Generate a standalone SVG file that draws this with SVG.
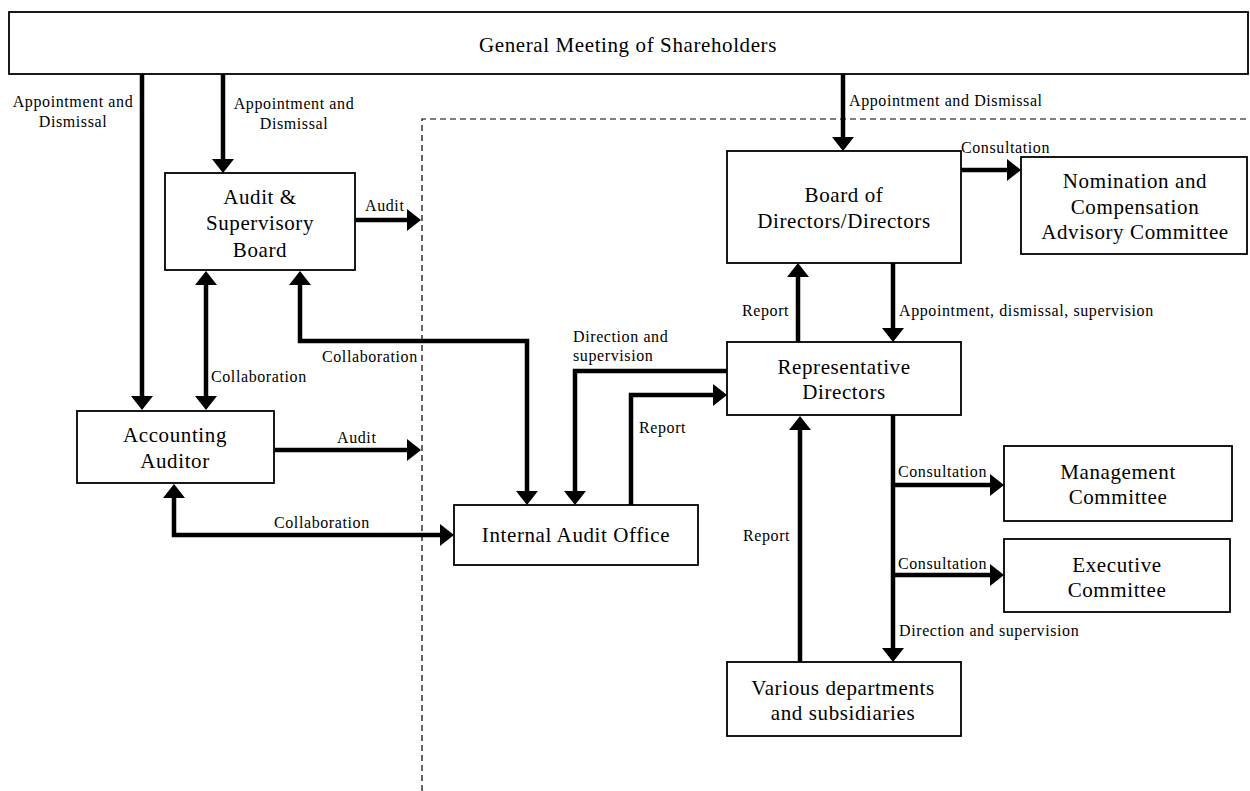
<svg xmlns="http://www.w3.org/2000/svg" width="1250" height="791" viewBox="0 0 1250 791">
<style>
.box{fill:#fff;stroke:#000;stroke-width:1.8}
.bt{font-family:"Liberation Serif","Times New Roman",serif;font-size:21px;letter-spacing:0.6px;text-anchor:middle;fill:#000}
.lb{font-family:"Liberation Serif","Times New Roman",serif;font-size:16px;letter-spacing:0.6px;fill:#000}
.lbc{text-anchor:middle}
.ln{fill:none;stroke:#000;stroke-width:4.5;stroke-linejoin:miter}
.dash{fill:none;stroke:#000;stroke-width:1.2;stroke-dasharray:6 4}
</style>
<defs>
<marker id="ah" markerUnits="userSpaceOnUse" markerWidth="16" markerHeight="24" viewBox="0 0 16 24" refX="1" refY="11" orient="auto-start-reverse">
<path d="M0,0 L14,11 L0,22 z" fill="#000"/>
</marker>
</defs>
<rect width="1250" height="791" fill="#fff"/>
<path class="dash" d="M422,791 L422,119 L1250,119"/>

<g id="connectors">
<path class="ln" d="M142,74 L142,397" marker-end="url(#ah)"/>
<path class="ln" d="M223,74 L223,160" marker-end="url(#ah)"/>
<path class="ln" d="M843,74 L843,138" marker-end="url(#ah)"/>
<path class="ln" d="M356,220 L408,220" marker-end="url(#ah)"/>
<path class="ln" d="M206,284 L206,397" marker-start="url(#ah)" marker-end="url(#ah)"/>
<path class="ln" d="M300,284 L300,341 L527,341 L527,492" marker-start="url(#ah)" marker-end="url(#ah)"/>
<path class="ln" d="M275,450 L408,450" marker-end="url(#ah)"/>
<path class="ln" d="M174,497 L174,535 L441,535" marker-start="url(#ah)" marker-end="url(#ah)"/>
<path class="ln" d="M727,371 L575,371 L575,492" marker-end="url(#ah)"/>
<path class="ln" d="M631,505 L631,395 L714,395" marker-end="url(#ah)"/>
<path class="ln" d="M798,342 L798,276" marker-end="url(#ah)"/>
<path class="ln" d="M893,263 L893,329" marker-end="url(#ah)"/>
<path class="ln" d="M961,170 L1008,170" marker-end="url(#ah)"/>
<path class="ln" d="M893,415 L893,649" marker-end="url(#ah)"/>
<path class="ln" d="M893,485 L991,485" marker-end="url(#ah)"/>
<path class="ln" d="M893,575 L991,575" marker-end="url(#ah)"/>
<path class="ln" d="M800,662 L800,429" marker-end="url(#ah)"/>
</g>

<g id="labels">
<text class="lb lbc" x="73" y="107">Appointment and</text>
<text class="lb lbc" x="73" y="127">Dismissal</text>
<text class="lb lbc" x="294" y="109">Appointment and</text>
<text class="lb lbc" x="294" y="129">Dismissal</text>
<text class="lb" x="849" y="106">Appointment and Dismissal</text>
<text class="lb" x="365" y="211">Audit</text>
<text class="lb" x="961" y="153">Consultation</text>
<text class="lb" x="742" y="316">Report</text>
<text class="lb" x="899" y="316">Appointment, dismissal, supervision</text>
<text class="lb" x="211" y="382">Collaboration</text>
<text class="lb" x="322" y="362">Collaboration</text>
<text class="lb" x="573" y="342">Direction and</text>
<text class="lb" x="573" y="361">supervision</text>
<text class="lb" x="337" y="443">Audit</text>
<text class="lb" x="639" y="433">Report</text>
<text class="lb" x="274" y="528">Collaboration</text>
<text class="lb" x="743" y="541">Report</text>
<text class="lb" x="898" y="477">Consultation</text>
<text class="lb" x="898" y="569">Consultation</text>
<text class="lb" x="899" y="636">Direction and supervision</text>
</g>

<g id="gms">
<rect class="box" x="9" y="12" width="1239" height="62"/>
<text class="bt" x="628" y="52">General Meeting of Shareholders</text>
</g>
<g id="asb">
<rect class="box" x="165" y="173" width="190" height="97"/>
<text class="bt" x="260" y="204">Audit &amp;</text>
<text class="bt" x="260" y="230">Supervisory</text>
<text class="bt" x="260" y="257">Board</text>
</g>
<g id="aa">
<rect class="box" x="77" y="411" width="197" height="72"/>
<text class="bt" x="175" y="442">Accounting</text>
<text class="bt" x="175" y="468">Auditor</text>
</g>
<g id="board">
<rect class="box" x="727" y="151" width="234" height="112"/>
<text class="bt" x="844" y="202">Board of</text>
<text class="bt" x="844" y="228">Directors/Directors</text>
</g>
<g id="nomination">
<rect class="box" x="1021" y="157" width="226" height="97"/>
<text class="bt" x="1135" y="188">Nomination and</text>
<text class="bt" x="1135" y="214">Compensation</text>
<text class="bt" x="1135" y="239">Advisory Committee</text>
</g>
<g id="rd">
<rect class="box" x="727" y="342" width="234" height="73"/>
<text class="bt" x="844" y="374">Representative</text>
<text class="bt" x="844" y="399">Directors</text>
</g>
<g id="iao">
<rect class="box" x="454" y="505" width="244" height="60"/>
<text class="bt" x="576" y="542">Internal Audit Office</text>
</g>
<g id="mgmt">
<rect class="box" x="1004" y="446" width="228" height="75"/>
<text class="bt" x="1118" y="479">Management</text>
<text class="bt" x="1118" y="504">Committee</text>
</g>
<g id="exec">
<rect class="box" x="1004" y="539" width="226" height="73"/>
<text class="bt" x="1117" y="572">Executive</text>
<text class="bt" x="1117" y="597">Committee</text>
</g>
<g id="various">
<rect class="box" x="727" y="662" width="234" height="74"/>
<text class="bt" x="843" y="695">Various departments</text>
<text class="bt" x="843" y="720">and subsidiaries</text>
</g>
</svg>
